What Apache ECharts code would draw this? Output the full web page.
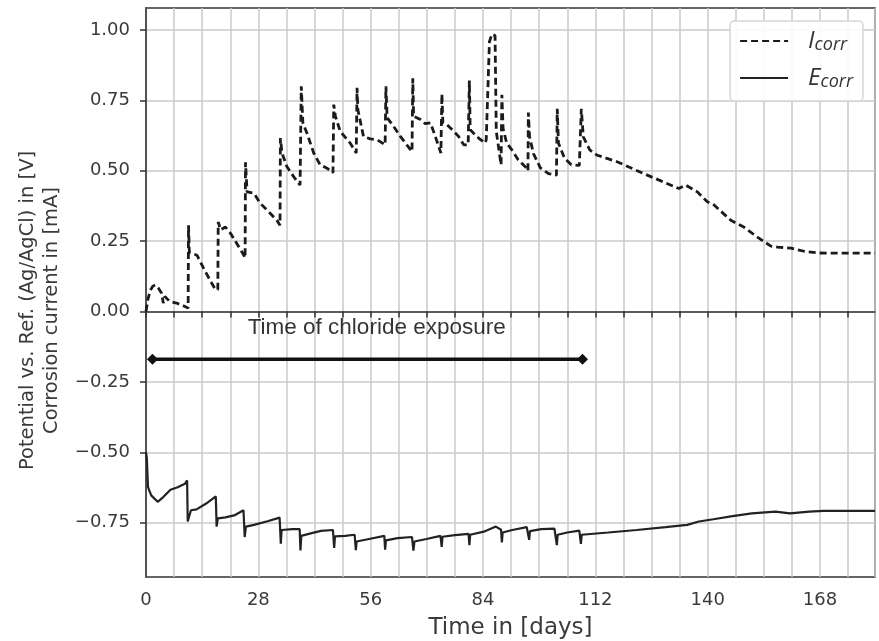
<!DOCTYPE html>
<html>
<head>
<meta charset="utf-8">
<script src="https://cdn.jsdelivr.net/npm/echarts@6/dist/echarts.min.js"></script>
<style>
  html, body { margin: 0; padding: 0; background: #fff; }
  #chart { width: 879px; height: 641px; }
</style>
</head>
<body>
<div id="chart"></div>
<script>
// [day, value] pairs
const icorrPoints = [
  [0, 0], [0.5, 0.045], [1.1, 0.076], [1.7, 0.09], [2.3, 0.094], [3.1, 0.083], [3.9, 0.065],
  [4.3, 0.03], [4.7, 0.053], [5.9, 0.036], [7.6, 0.03], [9.7, 0.018], [10.5, 0.012],
  [10.6, 0.306], [10.8, 0.21], [12.7, 0.2], [14.5, 0.15], [16.0, 0.11], [17.3, 0.078],
  [17.9, 0.078], [18.0, 0.318], [18.6, 0.29], [19.8, 0.3], [21.1, 0.277], [22.7, 0.24], [24.4, 0.2], [24.7, 0.19],
  [24.8, 0.53], [25.2, 0.425], [26.9, 0.42], [28.5, 0.384], [31.0, 0.348], [32.6, 0.324], [33.4, 0.306],
  [33.5, 0.616], [33.9, 0.563], [35.1, 0.515], [36.8, 0.479], [38.4, 0.449],
  [38.7, 0.8], [39.1, 0.67], [40.1, 0.634], [41.8, 0.563], [43.4, 0.521], [45.1, 0.509], [46.6, 0.493],
  [46.8, 0.735], [47.2, 0.694], [48.4, 0.64], [50.9, 0.598], [52.4, 0.563],
  [52.6, 0.795], [52.8, 0.717], [54.2, 0.622], [55.9, 0.613], [57.6, 0.61], [59.6, 0.592],
  [59.8, 0.8], [60.1, 0.688], [61.7, 0.658], [63.4, 0.622], [65.0, 0.592], [66.3, 0.568],
  [66.5, 0.828], [66.7, 0.694], [68.4, 0.682], [69.6, 0.667], [70.9, 0.67], [72.1, 0.622], [73.5, 0.563],
  [73.75, 0.773], [74.0, 0.67], [75.0, 0.664], [76.7, 0.64], [77.9, 0.622], [79.2, 0.592], [80.3, 0.592],
  [80.6, 0.82], [80.8, 0.646], [81.6, 0.634], [82.9, 0.616], [84.5, 0.598],
  [84.8, 0.61], [85.6, 0.958], [86.2, 0.985], [87.0, 0.98], [87.3, 0.64], [88.5, 0.521], [88.7, 0.77],
  [89.0, 0.65], [89.9, 0.598], [91.2, 0.574], [92.8, 0.538], [94.9, 0.509], [95.2, 0.5],
  [95.3, 0.707], [95.6, 0.62], [96.6, 0.56], [98.3, 0.51], [100.3, 0.49], [102.3, 0.484],
  [102.5, 0.72], [102.8, 0.598], [104.3, 0.545], [106.0, 0.521], [108.0, 0.519],
  [108.5, 0.72], [109.0, 0.62], [110.6, 0.574], [112.3, 0.556], [117.4, 0.532], [124, 0.49], [129, 0.46],
  [132.8, 0.437], [134.5, 0.449], [137.4, 0.425], [139.9, 0.39], [141.6, 0.378], [145.75, 0.324],
  [149, 0.3], [152.4, 0.264], [155.75, 0.232], [157.4, 0.229], [160.75, 0.225], [164, 0.214],
  [167.4, 0.208], [170.75, 0.207], [181.7, 0.207]
]

const ecorrPoints = [
  [0, -0.5], [0.2, -0.52], [0.5, -0.624], [1.3, -0.653], [2.9, -0.676], [4.3, -0.659], [6.1, -0.633],
  [7.9, -0.624], [9.7, -0.612], [10.25, -0.6],
  [10.4, -0.746], [11.2, -0.706], [12.6, -0.703], [15, -0.682], [17.4, -0.657],
  [17.6, -0.764], [17.9, -0.735], [19.8, -0.731], [22.2, -0.723], [24.3, -0.706],
  [24.6, -0.801], [24.9, -0.764], [26.9, -0.758], [30.5, -0.744], [33.3, -0.732],
  [33.6, -0.825], [33.8, -0.776], [36.5, -0.773], [38.3, -0.773],
  [38.5, -0.849], [38.7, -0.797], [41.3, -0.787], [43.6, -0.779], [46.6, -0.776],
  [46.9, -0.84], [47.1, -0.799], [49.6, -0.797], [52, -0.793],
  [52.3, -0.848], [52.5, -0.817], [55.6, -0.808], [59.4, -0.797],
  [59.6, -0.846], [59.8, -0.813], [62.7, -0.805], [66.3, -0.801],
  [66.65, -0.849], [66.9, -0.817], [69.9, -0.808], [73.4, -0.797],
  [73.7, -0.836], [73.9, -0.8], [77, -0.794], [80.4, -0.79],
  [80.6, -0.83], [80.8, -0.793], [84.2, -0.782], [87.2, -0.764], [88.5, -0.775],
  [88.7, -0.82], [88.9, -0.785], [91.3, -0.776], [94.9, -0.766],
  [95.5, -0.811], [95.7, -0.78], [98.5, -0.773], [101.8, -0.771],
  [102.4, -0.83], [102.6, -0.793], [105, -0.785], [108, -0.778],
  [108.4, -0.825], [108.6, -0.793], [115.2, -0.785], [122.3, -0.776], [129.5, -0.766],
  [134.9, -0.758], [137.8, -0.746], [141.4, -0.738], [146.2, -0.727], [151, -0.717],
  [156.9, -0.711], [160.5, -0.717], [165.3, -0.711], [168.8, -0.708], [181.7, -0.708]
]

const exposurePoints = [[1.6, -0.17], [108.8, -0.17]]
const exposureLabelAt = [57.5, -0.058]
const yTicks = [-0.75, -0.5, -0.25, 0, 0.25, 0.5, 0.75, 1.0]

const fmtY = v => (v < 0 ? "\u2212" : "") + Math.abs(v).toFixed(2)
const tickFont = { fontFamily: "DejaVu Sans", fontSize: 18, color: "#3a3a3a" }

const chart = echarts.init(document.getElementById("chart"))
chart.setOption({
  animation: false,
  backgroundColor: "#fff",
  grid: {
    left: 146, right: 4, top: 8, bottom: 64,
    outerBoundsMode: "none",
    show: true, borderColor: "#333", borderWidth: 1.5
  },
  legend: {
    data: ["Icorr", "Ecorr"],
    orient: "vertical",
    right: 16,
    top: 21,
    padding: [8, 10, 10, 9],
    itemWidth: 48,
    itemHeight: 14,
    itemGap: 12,
    backgroundColor: "rgba(255,255,255,0.9)",
    borderColor: "#d6d6d6",
    borderWidth: 1.5,
    borderRadius: 4,
    itemStyle: { opacity: 0 },
    formatter: name => "{i|" + name[0] + "}{s|" + name.slice(1).toLowerCase() + "}",
    textStyle: {
      rich: {
        i: { fontFamily: "Open Sans", fontStyle: "italic", fontSize: 24, color: "#333", padding: [0, 0, 0, 15] },
        s: { fontFamily: "Open Sans", fontStyle: "italic", fontSize: 18, color: "#333", padding: [8, 0, 0, 0] }
      }
    }
  },
  xAxis: {
    type: "value",
    min: 0,
    max: 181.7,
    interval: 7,
    name: "Time in [days]",
    nameLocation: "middle",
    nameGap: 40,
    nameTextStyle: { fontFamily: "DejaVu Sans", fontSize: 23, color: "#3a3a3a" },
    axisLine: { show: true, lineStyle: { color: "#333", width: 1.5 } },
    axisTick: { show: true, inside: false, length: 6, lineStyle: { color: "#333", width: 1.5 } },
    axisLabel: {
      ...tickFont,
      margin: 14,
      showMaxLabel: false,
      formatter: v => (v % 28 === 0 ? String(v) : "")
    },
    splitLine: { show: true, lineStyle: { color: "#cacaca", width: 1.5 } }
  },
  yAxis: {
    type: "value",
    min: -0.943,
    max: 1.078,
    name: "Potential vs. Ref. (Ag/AgCl) in [V]\nCorrosion current in [mA]",
    nameLocation: "middle",
    nameRotate: 90,
    nameGap: 82,
    nameTextStyle: {
      fontFamily: "DejaVu Sans", fontSize: 19.5, color: "#3a3a3a",
      lineHeight: 24, align: "center", padding: [0, 36, 0, 0]
    },
    axisLine: { show: true, lineStyle: { color: "#333", width: 1.5 } },
    axisTick: { show: true, length: 6, customValues: yTicks, lineStyle: { color: "#333", width: 1.5 } },
    axisLabel: { ...tickFont, margin: 16, customValues: yTicks, formatter: fmtY },
    splitLine: { show: true, lineStyle: { color: "#cacaca", width: 1.5 } }
  },
  series: [
    {
      name: "Icorr",
      type: "line",
      data: icorrPoints,
      symbol: "none",
      lineStyle: { color: "#1b1b1b", width: 2.8, type: [7, 4] },
      itemStyle: { color: "#1b1b1b" },
      z: 3
    },
    {
      name: "Ecorr",
      type: "line",
      data: ecorrPoints,
      symbol: "none",
      lineStyle: { color: "#222", width: 2.2 },
      itemStyle: { color: "#222" },
      z: 3
    },
    {
      name: "exposure",
      type: "line",
      data: exposurePoints,
      symbol: "diamond",
      symbolSize: 11,
      lineStyle: { color: "#111", width: 3.5 },
      itemStyle: { color: "#111" },
      z: 4
    },
    {
      name: "exposureLabel",
      type: "scatter",
      data: [exposureLabelAt],
      symbolSize: 0,
      label: {
        show: true,
        position: "inside",
        formatter: "Time of chloride exposure",
        fontFamily: "Liberation Sans",
        fontSize: 22.5,
        color: "#000"
      },
      z: 4
    }
  ]
})
</script>
</body>
</html>
